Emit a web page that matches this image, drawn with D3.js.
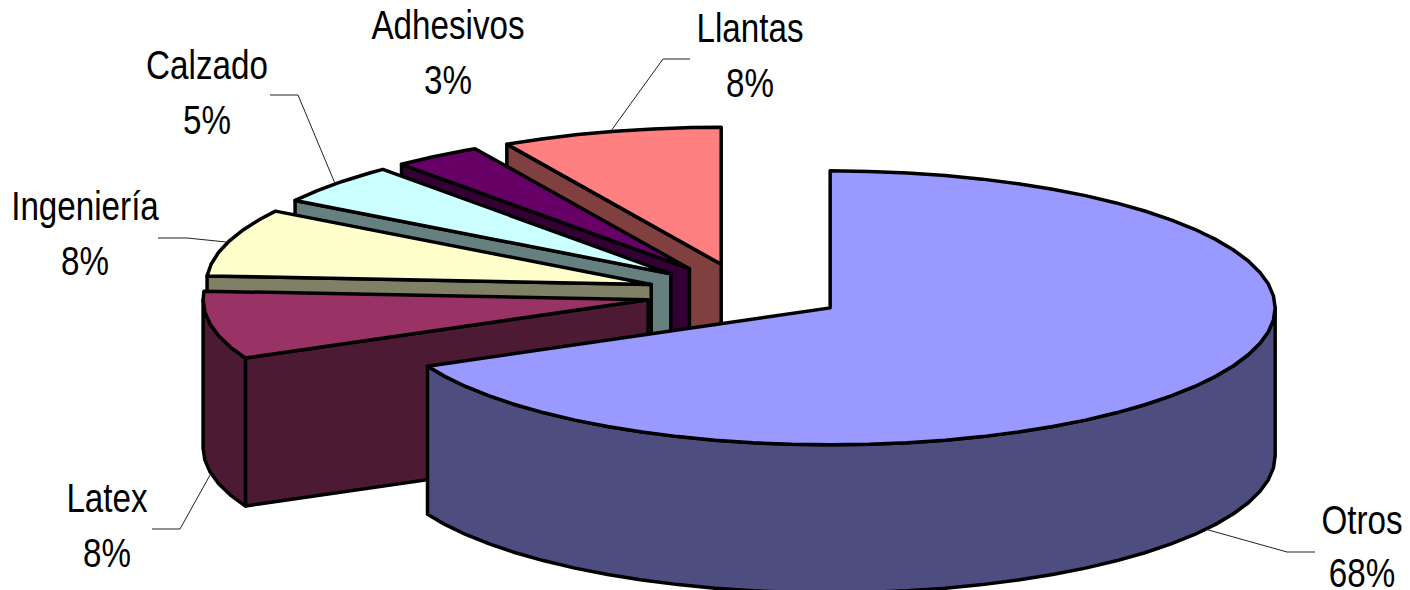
<!DOCTYPE html>
<html>
<head>
<meta charset="utf-8">
<script src="https://cdn.jsdelivr.net/npm/d3@7"></script>
<style>
  html, body { margin: 0; padding: 0; background: #fff; overflow: hidden; }
  text { font-family: "Liberation Sans", Arial, sans-serif; font-size: 40px; fill: #000; }
</style>
</head>
<body>
<script>
// chart values, clockwise from 12 o'clock
var categories = ['Otros', 'Latex', 'Ingeniería', 'Calzado', 'Adhesivos', 'Llantas'];
var values = [68, 8, 8, 4.8, 3.2, 8];
var topColors = ['#9999ff', '#993366', '#ffffcc', '#ccffff', '#660066', '#ff8080'];
var sideColors = ['#4d4d80', '#4d1a33', '#808066', '#668080', '#330033', '#804040'];

//---------setup plot-----------------------//
var width = 1410, height = 590;
var cx = 746, cy = 294, rx = 445, ry = 137;
var depth = 148;
var explodeX = 0.224;
var explodeY = [0.189, 0.224, 0.224, 0.224, 0.224, 0.224]; // Otros sits a little higher
var step = Math.PI / 36;

// label placement: centre x, first baseline, second baseline, leader elbow + end
var labelPlace = {
    'Otros': {x: 1362, y1: 534, y2: 587, leader: [[1287, 552], [1315, 552]]},
    'Latex': {x: 107, y1: 512, y2: 567, leader: [[180, 529], [152, 529]]},
    'Ingeniería': {x: 85, y1: 220, y2: 275, leader: [[187, 238], [158, 238]]},
    'Calzado': {x: 207, y1: 79, y2: 134, leader: [[298, 95], [270, 95]]},
    'Adhesivos': {x: 448, y1: 39, y2: 94, leader: null},
    'Llantas': {x: 750, y1: 42, y2: 97, leader: [[663, 59], [690, 59]]}
};

var x = d3.scaleLinear().domain([-1, 1]).range([cx - rx, cx + rx]);
var y = d3.scaleLinear().domain([-1, 1]).range([cy - ry, cy + ry]);

var pie = d3.pie().sort(null);
var slices = pie(values).map(function (d, i) {
    d.name = categories[i];
    d.mid = (d.startAngle + d.endAngle) / 2;
    d.ox = explodeX * Math.sin(d.mid);
    d.oy = -explodeY[i] * Math.cos(d.mid);
    d.top = topColors[i];
    d.side = sideColors[i];
    return d;
});

function rimPoint(d, a, dz) {
    return [x(d.ox + Math.sin(a)), y(d.oy - Math.cos(a)) + (dz || 0)];
}
function vertex(d, dz) {
    return [x(d.ox), y(d.oy) + (dz || 0)];
}
function arcPoints(d, a0, a1, dz) {
    var pts = [];
    for (var a = a0; a < a1; a += step) pts.push(rimPoint(d, a, dz));
    pts.push(rimPoint(d, a1, dz));
    return pts;
}

var line = d3.line();
var svg = d3.select('body').append('svg')
    .attr('width', width)
    .attr('height', height);

function face(g, pts, fill) {
    g.append('path')
        .attr('d', line(pts) + 'Z')
        .attr('fill', fill)
        .attr('stroke', '#000')
        .attr('stroke-width', 3.5)
        .attr('stroke-linejoin', 'round');
}

// painter's order: Llantas first going back round to Latex, Otros last
slices.slice(1).reverse().concat(slices[0]).forEach(function (d) {
    var g = svg.append('g').attr('class', 'slice');
    var a0 = d.startAngle, a1 = d.endAngle;

    // cut wall facing the viewer
    if (a0 > Math.PI) {
        face(g, [vertex(d), rimPoint(d, a0), rimPoint(d, a0, depth), vertex(d, depth)], d.side);
    }
    // outer wall, only the front half of the circle shows
    var s0 = Math.max(a0, Math.PI / 2), s1 = Math.min(a1, Math.PI * 1.5);
    if (s1 > s0) {
        face(g, arcPoints(d, s0, s1).concat(arcPoints(d, s0, s1, depth).reverse()), d.side);
    }
    // top
    face(g, [vertex(d)].concat(arcPoints(d, a0, a1)), d.top);
});

// labels + leader lines
slices.forEach(function (d) {
    var p = labelPlace[d.name];
    var pct = Math.round(100 * d.value / d3.sum(values)) + '%';
    var frontRim = d.mid > Math.PI / 2 && d.mid < Math.PI * 1.5;
    if (p.leader) {
        svg.append('path')
            .attr('d', line([rimPoint(d, d.mid, frontRim ? depth : 0)].concat(p.leader)))
            .attr('fill', 'none')
            .attr('stroke', '#222')
            .attr('stroke-width', 1);
    }
    [[d.name, p.y1], [pct, p.y2]].forEach(function (t) {
        svg.append('text')
            .attr('transform', 'translate(' + p.x + ',' + t[1] + ') scale(0.83,1)')
            .attr('text-anchor', 'middle')
            .text(t[0]);
    });
});
</script>
</body>
</html>
